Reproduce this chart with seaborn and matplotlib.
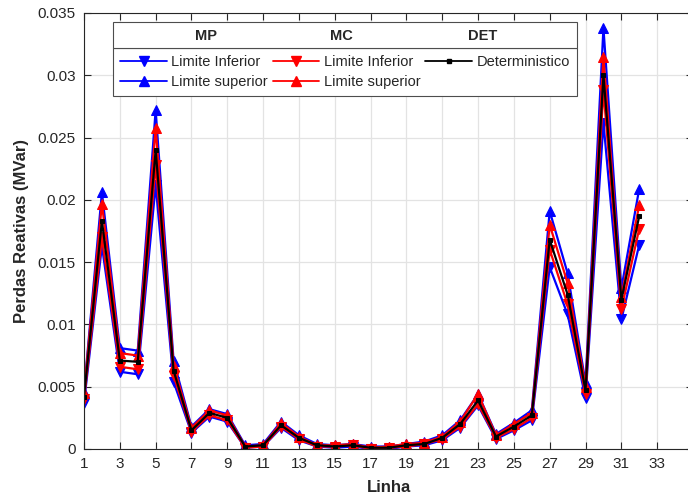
import numpy as np
import pandas as pd
import matplotlib
matplotlib.use("Agg")
import matplotlib.pyplot as plt
from matplotlib.lines import Line2D
from matplotlib.patches import Rectangle
import seaborn as sns

linha = list(range(1, 33))

mp_inf = [0.0037, 0.0163, 0.0062, 0.0060, 0.0212, 0.0054, 0.0013, 0.0026, 0.0022, 0.0001,
          0.0002, 0.0017, 0.0007, 0.0002, 0.0001, 0.0002, 0.0000, 0.0000, 0.0002, 0.0003,
          0.0007, 0.0017, 0.0035, 0.0008, 0.0015, 0.0023, 0.0146, 0.0108, 0.0041, 0.0262,
          0.0104, 0.0164]
mp_sup = [0.0046, 0.0206, 0.0081, 0.0079, 0.0272, 0.0071, 0.0018, 0.0032, 0.0028, 0.0003,
          0.0004, 0.0022, 0.0011, 0.0004, 0.0003, 0.0004, 0.0002, 0.0002, 0.0004, 0.0006,
          0.0011, 0.0023, 0.0044, 0.0012, 0.0021, 0.0031, 0.0191, 0.0141, 0.0053, 0.0338,
          0.0129, 0.0209]
mc_inf = [0.0040, 0.0170, 0.0066, 0.0064, 0.0228, 0.0059, 0.0014, 0.0027, 0.0023, 0.0001,
          0.0002, 0.0018, 0.0008, 0.0002, 0.0002, 0.0003, 0.0000, 0.0001, 0.0002, 0.0004,
          0.0008, 0.0018, 0.0036, 0.0009, 0.0016, 0.0025, 0.0160, 0.0116, 0.0044, 0.0288,
          0.0112, 0.0177]
mc_sup = [0.0045, 0.0197, 0.0077, 0.0075, 0.0258, 0.0067, 0.0017, 0.0031, 0.0027, 0.0002,
          0.0003, 0.0021, 0.0010, 0.0003, 0.0003, 0.0004, 0.0001, 0.0002, 0.0004, 0.0005,
          0.0010, 0.0022, 0.0044, 0.0011, 0.0020, 0.0029, 0.0180, 0.0133, 0.0050, 0.0315,
          0.0122, 0.0196]
det = [0.0042, 0.0183, 0.0071, 0.0070, 0.0240, 0.0063, 0.0015, 0.0029, 0.0025, 0.0002,
       0.0003, 0.0019, 0.0009, 0.0003, 0.0002, 0.0003, 0.0001, 0.0001, 0.0003, 0.0004,
       0.0009, 0.0020, 0.0039, 0.0010, 0.0018, 0.0027, 0.0168, 0.0124, 0.0047, 0.0300,
       0.0120, 0.0187]

xticks = list(range(1, 36, 2))
xtick_labels = [str(t) if t <= 33 else "" for t in xticks]
yticks = [0, 0.005, 0.01, 0.015, 0.02, 0.025, 0.03, 0.035]
ytick_labels = ["0", "0.005", "0.01", "0.015", "0.02", "0.025", "0.03", "0.035"]

sns.set_theme(style="ticks")
plt.rcParams['font.family'] = ['Liberation Sans', 'DejaVu Sans']

fig = plt.figure(figsize=(6.88, 5.00), dpi=100)
ax = fig.add_axes([84/688, 51/500, (693-84)/688, 436/500])

series = [
    (mp_inf, "blue", "v", 6.5),
    (mp_sup, "blue", "^", 6.5),
    (mc_inf, "red", "v", 6.5),
    (mc_sup, "red", "^", 6.5),
    (det, "black", "s", 2.5),
]
for vals, col, mk, ms in series:
    df = pd.DataFrame({"Linha": linha, "v": vals})
    sns.lineplot(data=df, x="Linha", y="v", color=col, marker=mk, markersize=ms,
                 markeredgecolor=col, linewidth=1.6, ax=ax, legend=False)

ax.set_xlim(1, 35)
ax.set_ylim(0, 0.035)
ax.set_xticks(xticks)
ax.set_xticklabels(xtick_labels)
ax.set_yticks(yticks)
ax.set_yticklabels(ytick_labels)
ax.tick_params(direction="in", top=True, right=True, length=5, width=0.8,
               labelsize=11, colors="#262626", pad=6)
ax.grid(True, color="#e3e3e3", linewidth=0.9)
ax.set_axisbelow(True)
for s in ax.spines.values():
    s.set_color("#262626")
    s.set_linewidth(0.8)
ax.set_xlabel("Linha", fontsize=12, fontweight="bold", labelpad=6)
ax.set_ylabel("Perdas Reativas (MVar)", fontsize=12, fontweight="bold", labelpad=6)

# legend entries
handles = [
    Line2D([], [], color="blue", marker="v", markersize=6.5, linewidth=1.3),
    Line2D([], [], color="blue", marker="^", markersize=6.5, linewidth=1.3),
    Line2D([], [], color="red", marker="v", markersize=6.5, linewidth=1.3),
    Line2D([], [], color="red", marker="^", markersize=6.5, linewidth=1.3),
    Line2D([], [], color="black", marker="s", markersize=2.5, linewidth=1.3),
    Line2D([], [], color="none"),
]
labels = ["Limite Inferior", "Limite superior", "Limite Inferior", "Limite superior",
          "Deterministico", ""]
x0 = 113/688
w = 464/688
leg = ax.legend(handles, labels, ncol=3, loc="upper left",
                bbox_to_anchor=(x0, 1-93/500, w, 45/500), bbox_transform=fig.transFigure,
                mode="expand", borderaxespad=0, fontsize=10.5, frameon=True, fancybox=False,
                handlelength=3.2, handletextpad=0.3, labelspacing=0.4, columnspacing=0.8,
                borderpad=0.5)
leg.get_frame().set_edgecolor("#4d4d4d")
leg.get_frame().set_linewidth(0.8)
leg.get_frame().set_alpha(1)

# title row of legend
rect = Rectangle((x0, 1-48/500), w, 26/500, transform=fig.transFigure,
                 facecolor="white", edgecolor="#4d4d4d", linewidth=0.8, zorder=10)
fig.patches.append(rect)
for txt, px in [("MP", 206), ("MC", 341), ("DET", 483)]:
    fig.text(px/688, 1-36/500, txt, ha="center", va="center", fontsize=10.5,
             fontweight="bold", zorder=11)

fig.savefig("out.png", dpi=100)
